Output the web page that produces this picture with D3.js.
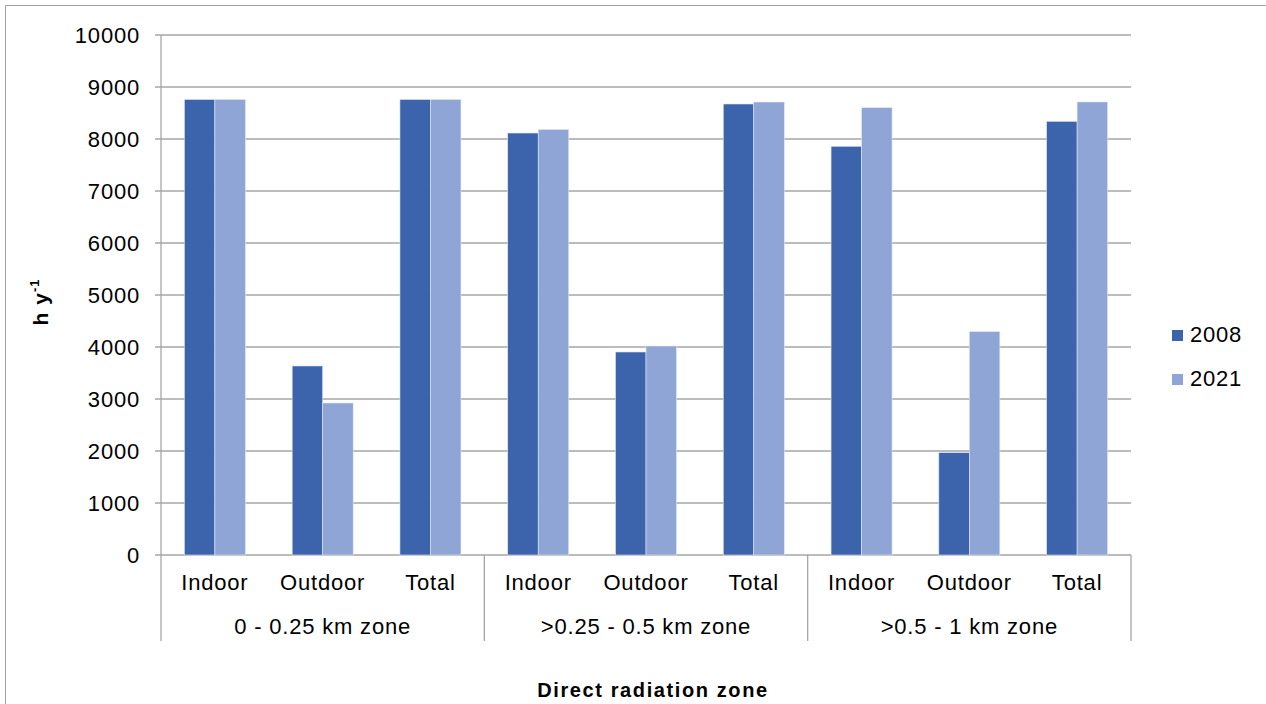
<!DOCTYPE html>
<html><head><meta charset="utf-8">
<script src="https://cdn.jsdelivr.net/npm/d3@7"></script>
<style>body{margin:0;background:#fff}svg{display:block;font-family:"Liberation Sans",Arial,sans-serif}</style>
</head><body>
<svg id="c" width="1266" height="704"></svg>
<script>
const groups = ["0 - 0.25 km zone", ">0.25 - 0.5 km zone", ">0.5 - 1 km zone"];
const subcats = ["Indoor", "Outdoor", "Total"];
const seriesNames = ["2008", "2021"];
const values2008 = [8760, 3635, 8760, 8115, 3904, 8673, 7860, 1968, 8340];
const values2021 = [8760, 2923, 8760, 8183, 4019, 8711, 8602, 4295, 8712];
const yTicks = [0,1000,2000,3000,4000,5000,6000,7000,8000,9000,10000];
const colors = ["#3C64AD", "#8FA5D5"];

const svg = d3.select("#c");
const L = 161, R = 1131, T = 35, B = 555;
const FS = 22, LS = 0.8;
const cats = [];
groups.forEach((g,gi)=>subcats.forEach((s,si)=>cats.push({key:gi+"-"+si, g, s})));

const x = d3.scaleBand().domain(cats.map(d=>d.key)).range([L,R]).paddingInner(0.434).paddingOuter(0.217);
const xs = d3.scaleBand().domain(seriesNames).range([0,x.bandwidth()]);
const y = d3.scaleLinear().domain([0,10000]).range([B,T]);

// outer border
svg.append("path").attr("d","M5.5,704 V5.5 H1266").attr("fill","none").attr("stroke","#a0a0a0").attr("stroke-width",1);

// gridlines
svg.append("g").selectAll("line").data(yTicks).join("line")
  .attr("x1",155).attr("x2",R).attr("y1",d=>y(d)).attr("y2",d=>y(d))
  .attr("stroke","#a6a6a6").attr("stroke-width",1.3);

// y axis labels
svg.append("g").selectAll("text").data(yTicks).join("text")
  .attr("x",140).attr("y",d=>y(d)+8).attr("text-anchor","end")
  .attr("font-size",FS).attr("letter-spacing",LS).attr("fill","#000").text(d=>d);

// bars
const data = cats.map((c,i)=>({key:c.key, v:[values2008[i], values2021[i]]}));
const bg = svg.append("g").selectAll("g").data(data).join("g").attr("transform",d=>`translate(${x(d.key)},0)`);
bg.selectAll("rect").data(d=>d.v.map((v,i)=>({v,s:seriesNames[i],i}))).join("rect")
  .attr("x",d=>xs(d.s)).attr("width",xs.bandwidth())
  .attr("y",d=>y(d.v)).attr("height",d=>B-y(d.v))
  .attr("fill",d=>colors[d.i]).attr("stroke","#dfe6f3").attr("stroke-width",0.6);

// y axis line and group separators
const step = (R-L)/cats.length;
const seps = [0,3,6,9].map(k=>L+k*step);
svg.append("g").selectAll("line").data(seps).join("line")
  .attr("x1",d=>d).attr("x2",d=>d).attr("y1",(d,i)=>i===0?T:B).attr("y2",641)
  .attr("stroke","#a6a6a6").attr("stroke-width",1.3);

// category labels
svg.append("g").selectAll("text").data(cats).join("text")
  .attr("x",d=>x(d.key)+x.bandwidth()/2).attr("y",590).attr("text-anchor","middle")
  .attr("font-size",FS).attr("letter-spacing",LS).attr("fill","#000").text(d=>d.s);
svg.append("g").selectAll("text").data(groups).join("text")
  .attr("x",(d,i)=>(seps[i]+seps[i+1])/2).attr("y",634).attr("text-anchor","middle")
  .attr("font-size",FS).attr("letter-spacing",LS).attr("fill","#000").text(d=>d);

// axis titles
svg.append("text").attr("x",(L+R)/2+7).attr("y",697).attr("text-anchor","middle")
  .attr("font-size",20).attr("font-weight","bold").attr("letter-spacing",1.6).text("Direct radiation zone");
const yt = svg.append("text").attr("transform","translate(48,302) rotate(-90)").attr("text-anchor","middle")
  .attr("font-size",21).attr("font-weight","bold").attr("letter-spacing",1);
yt.append("tspan").text("h y");
yt.append("tspan").attr("font-size",13).attr("dy",-9).text("-1");

// legend
const lg = svg.append("g").selectAll("g").data(seriesNames).join("g")
  .attr("transform",(d,i)=>`translate(1172,${334+i*44})`);
lg.append("rect").attr("x",0).attr("y",-4).attr("width",11).attr("height",11).attr("fill",(d,i)=>colors[i]);
lg.append("text").attr("x",18).attr("y",8).attr("font-size",FS).attr("letter-spacing",LS).text(d=>d);
</script>
</body></html>
